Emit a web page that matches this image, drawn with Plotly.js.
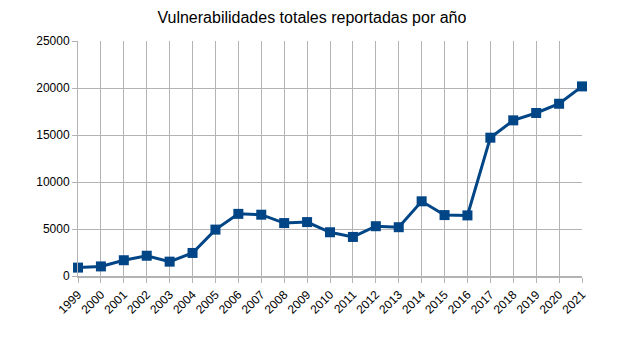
<!DOCTYPE html>
<html><head><meta charset="utf-8">
<script src="https://cdn.plot.ly/plotly-3.0.1.min.js"></script>
<style>html,body{margin:0;padding:0;background:#fff}</style>
</head><body><div id="chart" style="width:634px;height:346px"></div>
<script>
const years = ["1999","2000","2001","2002","2003","2004","2005","2006","2007","2008","2009","2010","2011","2012","2013","2014","2015","2016","2017","2018","2019","2020","2021"];
const totals = [894,1020,1677,2156,1527,2451,4935,6610,6520,5632,5736,4652,4155,5297,5191,7946,6480,6447,14714,16557,17344,18325,20171];
const yTicks = [0,5000,10000,15000,20000,25000];

Plotly.newPlot('chart', [{
  x: years, y: totals, type: 'scatter', mode: 'lines+markers',
  line: {color: '#004586', width: 3},
  marker: {symbol: 'square', size: 10, color: '#004586'},
  cliponaxis: false
}], {
  width: 634, height: 346,
  margin: {l: 78, r: 52, t: 41, b: 70},
  paper_bgcolor: '#fff', plot_bgcolor: '#fff',
  showlegend: false,
  font: {family: 'Liberation Sans, Arial, sans-serif', color: '#000', size: 12},
  title: {text: 'Vulnerabilidades totales reportadas por año', x: 0.492, xanchor: 'center', y: 0.95, yanchor: 'middle',
          font: {size: 16, family: 'Liberation Sans, Arial, sans-serif', color: '#000'}},
  xaxis: {type: 'category', range: [0, years.length - 1], tickangle: -45,
          showgrid: true, gridcolor: '#b3b3b3', gridwidth: 1,
          showline: true, linecolor: '#b3b3b3', linewidth: 2,
          ticks: 'outside', ticklen: 5, tickcolor: '#b3b3b3',
          tickfont: {size: 12, color: '#000'}, zeroline: false, fixedrange: true},
  yaxis: {range: [0, 25000], tickvals: yTicks, ticktext: yTicks.map(String),
          showgrid: true, gridcolor: '#b3b3b3', gridwidth: 1,
          showline: true, linecolor: '#b3b3b3', linewidth: 1,
          ticks: 'outside', ticklen: 5, tickcolor: '#b3b3b3',
          tickfont: {size: 12, color: '#000'}, zeroline: false, fixedrange: true}
}, {displayModeBar: false, staticPlot: true});
</script></body></html>
